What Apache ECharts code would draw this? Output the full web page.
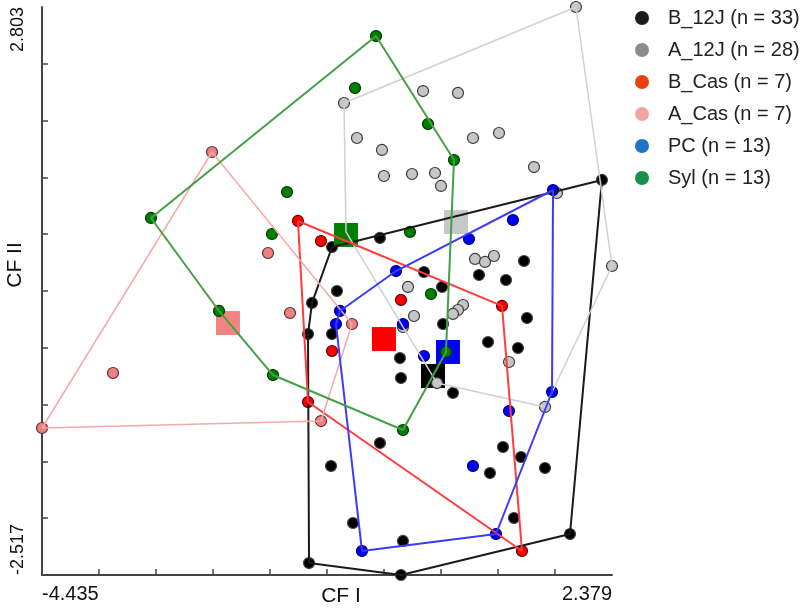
<!DOCTYPE html>
<html><head><meta charset="utf-8">
<script src="https://cdn.jsdelivr.net/npm/echarts@6/dist/echarts.min.js"></script>
<style>html,body{margin:0;padding:0;background:#fff}#c{width:800px;height:608px}</style>
</head><body><div id="c"></div>
<script>
// ---- data ----
const groupNames = ['B_12J (n = 33)', 'A_12J (n = 28)', 'B_Cas (n = 7)', 'A_Cas (n = 7)', 'PC (n = 13)', 'Syl (n = 13)'];
const xTicks = [-4.435, 2.379];
const yTicks = [-2.517, 2.803];

const b12jX = [-0.968,-0.395,2.259,-0.909,-1.207,-1.255,-0.968,-0.156,-0.144,1.327,0.789,1.112,0.131,0.347,1.363,0.359,0.897,1.255,0.478,1.076,1.291,1.578,0.920,1.207,1.877,-0.395,-0.980,-0.717,-0.120,-1.243,-0.144,-0.347,-0.383];
const b12jY = [0.555,0.640,1.183,0.143,0.031,-0.260,-0.260,-0.485,-0.672,0.424,0.293,0.246,0.321,0.181,-0.110,-0.166,-0.335,-0.391,-0.812,-1.318,-1.412,-1.515,-1.562,-1.983,-2.133,-1.281,-1.496,-2.030,-2.198,-2.405,-2.517,-0.307,-0.250];

const a12jX = [1.948,-0.825,0.120,0.538,-0.670,-0.371,0.717,1.028,-0.347,-0.012,0.263,0.335,1.446,1.721,0.741,0.861,0.968,-0.060,0.012,0.598,0.538,0.478,2.379,0.287,1.148,1.578,-0.801,-0.120];
const a12jY = [2.803,1.904,2.016,1.998,1.576,1.464,1.576,1.623,1.220,1.239,1.248,1.127,1.304,1.061,0.443,0.415,0.471,0.181,-0.091,0.012,-0.035,-0.072,0.377,-0.719,-0.522,-0.943,0.696,-0.194];

const bCasX = [-1.375,-1.100,-0.144,1.064,-0.968,-1.255,1.303];
const bCasY = [0.799,0.611,0.059,0.003,-0.419,-0.897,-2.292];

const aCasX = [-2.403,-3.586,-4.435,-1.733,-1.470,-0.729,-1.100];
const aCasY = [1.445,-0.625,-1.140,0.499,-0.063,-0.166,-1.075];

const pcX = [1.674,1.195,0.669,-0.203,-0.873,-0.921,-0.120,0.131,1.662,1.148,0.717,0.992,-0.610];
const pcY = [1.089,0.808,0.630,0.330,-0.044,-0.166,-0.166,-0.466,-0.803,-0.981,-1.496,-2.133,-2.292];

const sylX = [-0.442,-0.693,0.179,0.490,-1.506,-3.132,-1.686,-0.036,-2.319,0.215,0.394,-1.674,-0.120];
const sylY = [2.531,2.044,1.707,1.370,1.070,0.827,0.677,0.696,-0.044,0.115,-0.428,-0.644,-1.159];

// group centroids (squares), same order as groupNames
const centroidX = [0.239, 0.514, -0.347, -2.212, 0.418, -0.801];
const centroidY = [-0.653, 0.789, -0.307, -0.157, -0.428, 0.668];

// ---- styles ----
const pointFill   = ['#000000','#c6c6c6','#ff0000','#f08080','#0000ff','#008000'];
const pointBorder = ['#444444','#3a3a3a','#5a0000','#5a3030','#00005a','#003300'];
const lineColor   = ['#1a1a1a','#d0d0d0','#ff3b3b','#f7a8a8','#3b3bff','#44a044'];
const lineWidth   = [2, 1.5, 2, 1.5, 2, 2];
const squareColor = ['#000000','#c8c8c8','#ff0000','#f38282','#0000ff','#008000'];
const legendColor = ['#1c1c1c','#8a8c90','#e8410f','#f4a3a3','#1e74c8','#16904c'];

const groupsX = [b12jX, a12jX, bCasX, aCasX, pcX, sylX];
const groupsY = [b12jY, a12jY, bCasY, aCasY, pcY, sylY];

function convexHull(xs, ys) {
  const p = xs.map((x, i) => [x, ys[i]]).sort((a, b) => a[0] - b[0] || a[1] - b[1]);
  const cross = (o, a, b) => (a[0]-o[0])*(b[1]-o[1]) - (a[1]-o[1])*(b[0]-o[0]);
  const lower = [], upper = [];
  for (const q of p) { while (lower.length >= 2 && cross(lower[lower.length-2], lower[lower.length-1], q) <= 0) lower.pop(); lower.push(q); }
  for (let i = p.length - 1; i >= 0; i--) { const q = p[i]; while (upper.length >= 2 && cross(upper[upper.length-2], upper[upper.length-1], q) <= 0) upper.pop(); upper.push(q); }
  upper.pop(); lower.pop();
  const h = lower.concat(upper);
  h.push(h[0]);
  return h;
}

const font = 'Liberation Sans, Arial, sans-serif';
const series = [];
groupNames.forEach((name, g) => {
  series.push({
    type: 'line', name: name + ' hull', data: convexHull(groupsX[g], groupsY[g]),
    symbol: 'none', showSymbol: false, silent: true,
    lineStyle: { color: lineColor[g], width: lineWidth[g] }
  });
  series.push({
    type: 'scatter', name: name,
    data: groupsX[g].map((x, i) => [x, groupsY[g][i]]),
    symbol: 'circle', symbolSize: 11,
    itemStyle: { color: pointFill[g], borderColor: pointBorder[g], borderWidth: 1.2, opacity: 1 }
  });
  series.push({
    type: 'scatter', name: name + ' centroid',
    data: [[centroidX[g], centroidY[g]]],
    symbol: 'rect', symbolSize: 24,
    itemStyle: { color: squareColor[g], opacity: 1 }
  });
});

const tickVals = (t) => Array.from({length: 11}, (_, i) => t[0] + (t[1] - t[0]) * i / 10);

const chart = echarts.init(document.getElementById('c'), null, { renderer: 'canvas' });
chart.setOption({
  animation: false,
  backgroundColor: '#ffffff',
  textStyle: { fontFamily: font },
  grid: { left: 42, right: 188, top: 7, bottom: 33, containLabel: false, outerBoundsMode: 'none' },
  legend: {
    orient: 'vertical', left: 630, top: 3,
    itemWidth: 14, itemHeight: 14, itemGap: 12, icon: 'circle', selectedMode: false,
    textStyle: { fontSize: 20, color: '#222', fontFamily: font, lineHeight: 20, padding: [0, 0, 0, 14] },
    data: groupNames.map((n, i) => ({ name: n, itemStyle: { color: legendColor[i], borderWidth: 0 } }))
  },
  xAxis: {
    type: 'value', min: xTicks[0], max: xTicks[1],
    name: 'CF I', nameLocation: 'middle', nameGap: 11, nameMoveOverlap: false,
    nameTextStyle: { fontSize: 21, color: '#111', fontFamily: font, padding: [0, 0, 0, 28] },
    axisLine: { show: true, onZero: false, lineStyle: { color: '#444', width: 2 } },
    axisTick: { show: true, inside: true, length: 6, customValues: tickVals(xTicks), lineStyle: { color: '#444', width: 1.5 } },
    axisLabel: { customValues: xTicks, fontSize: 20, color: '#111', margin: 9,
      alignMinLabel: 'left', alignMaxLabel: 'right', formatter: v => v.toFixed(3) },
    splitLine: { show: false }
  },
  yAxis: {
    type: 'value', min: yTicks[0], max: yTicks[1],
    name: 'CF II', nameLocation: 'middle', nameGap: 16, nameMoveOverlap: false,
    nameTextStyle: { fontSize: 21, color: '#111', fontFamily: font, padding: [0, 0, 0, 52] },
    axisLine: { show: true, onZero: false, lineStyle: { color: '#444', width: 2 } },
    axisTick: { show: true, inside: true, length: 6, customValues: tickVals(yTicks), lineStyle: { color: '#444', width: 1.5 } },
    axisLabel: { customValues: yTicks, fontSize: 18, color: '#111', margin: 15, rotate: 90,
      alignMinLabel: 'left', alignMaxLabel: 'right', formatter: v => v.toFixed(3) },
    splitLine: { show: false }
  },
  series: series
});
</script>
</body></html>
